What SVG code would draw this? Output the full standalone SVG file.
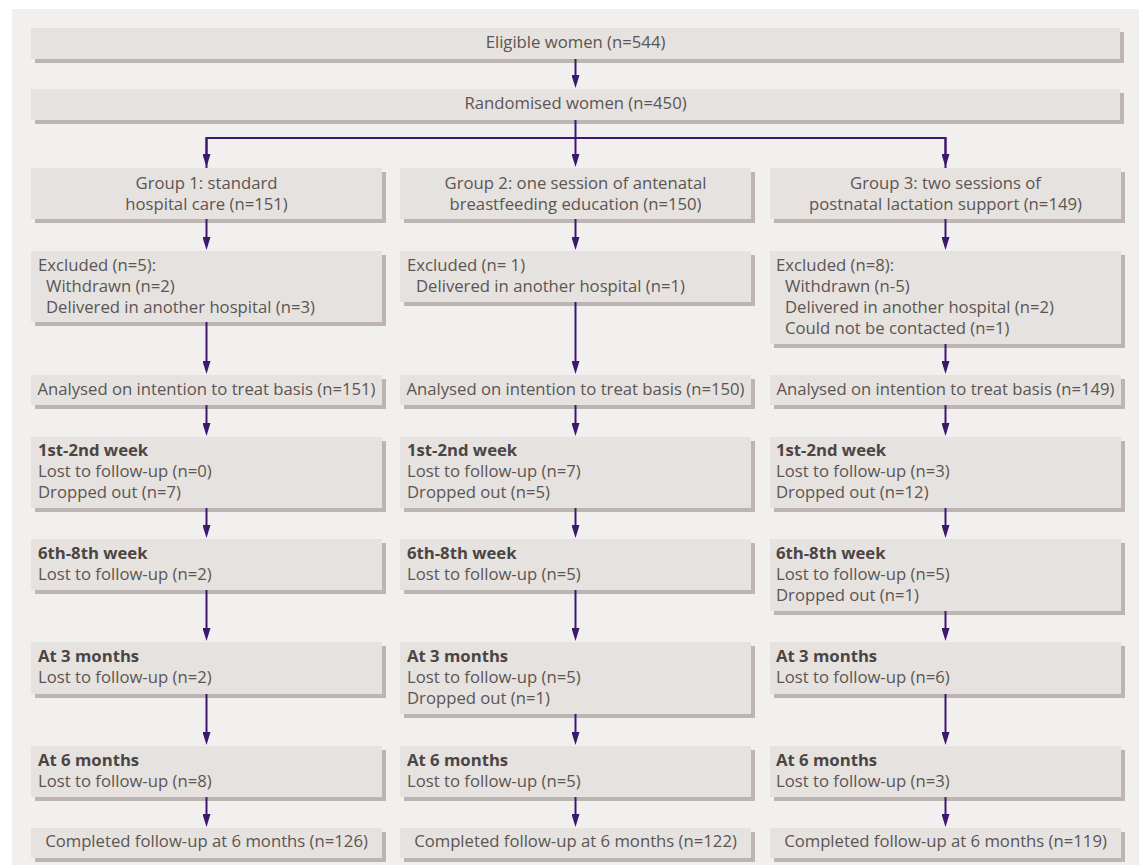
<svg xmlns="http://www.w3.org/2000/svg" width="1139" height="865" viewBox="0 0 1139 865">
<defs>
<style>
.bx{fill:#e6e2df}
.sh{fill:#bdb5b3}
.t{font-family:"Open Sans","Liberation Sans",sans-serif;font-size:16.7px;fill:#5b5553}
.c{text-anchor:middle}
.b{font-weight:bold;fill:#4b4543}
.ln{stroke:#3d176e;stroke-width:2;fill:none}
.ar{stroke:#3d176e;stroke-width:2;fill:none;marker-end:url(#ah)}
</style>
<marker id="ah" viewBox="0 -4 13 8" refX="7" refY="0" markerWidth="13" markerHeight="8" markerUnits="userSpaceOnUse" orient="auto">
<path d="M0,-4 L13,0 L0,4 z" fill="#3d176e"/>
</marker>
</defs>
<rect x="12" y="9" width="1127" height="856" fill="#f1f0ef"/>

<g id="eligible"><rect class="sh" x="35" y="32" width="1089" height="31"/><rect class="bx" x="31" y="28" width="1089" height="31"/><text class="t c" x="575.5" y="48">Eligible women (n=544)</text></g>
<g id="randomised"><rect class="sh" x="35" y="93" width="1089" height="31"/><rect class="bx" x="31" y="89" width="1089" height="31"/><text class="t c" x="575.5" y="109">Randomised women (n=450)</text></g>

<g id="g1"><rect class="sh" x="35" y="172" width="351" height="51"/><rect class="bx" x="31" y="168" width="351" height="51"/><text class="t c" x="206.5" y="189">Group 1: standard</text><text class="t c" x="206.5" y="210">hospital care (n=151)</text></g>
<g id="g2"><rect class="sh" x="404" y="172" width="351" height="51"/><rect class="bx" x="400" y="168" width="351" height="51"/><text class="t c" x="575.5" y="189">Group 2: one session of antenatal</text><text class="t c" x="575.5" y="210">breastfeeding education (n=150)</text></g>
<g id="g3"><rect class="sh" x="774" y="172" width="351" height="51"/><rect class="bx" x="770" y="168" width="351" height="51"/><text class="t c" x="945.5" y="189">Group 3: two sessions of</text><text class="t c" x="945.5" y="210">postnatal lactation support (n=149)</text></g>

<g id="ex1"><rect class="sh" x="35" y="255" width="351" height="71"/><rect class="bx" x="31" y="251" width="351" height="71"/><text class="t" x="38" y="271">Excluded (n=5):</text><text class="t" x="46" y="292">Withdrawn (n=2)</text><text class="t" x="46" y="313">Delivered in another hospital (n=3)</text></g>
<g id="ex2"><rect class="sh" x="404" y="255" width="351" height="51"/><rect class="bx" x="400" y="251" width="351" height="51"/><text class="t" x="407" y="271">Excluded (n= 1)</text><text class="t" x="416" y="292">Delivered in another hospital (n=1)</text></g>
<g id="ex3"><rect class="sh" x="774" y="255" width="351" height="93"/><rect class="bx" x="770" y="251" width="351" height="93"/><text class="t" x="776" y="271">Excluded (n=8):</text><text class="t" x="785" y="292">Withdrawn (n-5)</text><text class="t" x="785" y="313">Delivered in another hospital (n=2)</text><text class="t" x="785" y="334">Could not be contacted (n=1)</text></g>

<g id="an1"><rect class="sh" x="35" y="379" width="351" height="30"/><rect class="bx" x="31" y="375" width="351" height="30"/><text class="t c" x="206.5" y="394.5">Analysed on intention to treat basis (n=151)</text></g>
<g id="an2"><rect class="sh" x="404" y="379" width="351" height="30"/><rect class="bx" x="400" y="375" width="351" height="30"/><text class="t c" x="575.5" y="394.5">Analysed on intention to treat basis (n=150)</text></g>
<g id="an3"><rect class="sh" x="774" y="379" width="351" height="30"/><rect class="bx" x="770" y="375" width="351" height="30"/><text class="t c" x="945.5" y="394.5">Analysed on intention to treat basis (n=149)</text></g>

<g id="w1a"><rect class="sh" x="35" y="441" width="351" height="71"/><rect class="bx" x="31" y="437" width="351" height="71"/><text class="t b" x="38" y="456">1st-2nd week</text><text class="t" x="38" y="477">Lost to follow-up (n=0)</text><text class="t" x="38" y="498">Dropped out (n=7)</text></g>
<g id="w1b"><rect class="sh" x="404" y="441" width="351" height="71"/><rect class="bx" x="400" y="437" width="351" height="71"/><text class="t b" x="407" y="456">1st-2nd week</text><text class="t" x="407" y="477">Lost to follow-up (n=7)</text><text class="t" x="407" y="498">Dropped out (n=5)</text></g>
<g id="w1c"><rect class="sh" x="774" y="441" width="351" height="71"/><rect class="bx" x="770" y="437" width="351" height="71"/><text class="t b" x="776" y="456">1st-2nd week</text><text class="t" x="776" y="477">Lost to follow-up (n=3)</text><text class="t" x="776" y="498">Dropped out (n=12)</text></g>

<g id="w6a"><rect class="sh" x="35" y="543" width="351" height="51"/><rect class="bx" x="31" y="539" width="351" height="51"/><text class="t b" x="38" y="559">6th-8th week</text><text class="t" x="38" y="580">Lost to follow-up (n=2)</text></g>
<g id="w6b"><rect class="sh" x="404" y="543" width="351" height="51"/><rect class="bx" x="400" y="539" width="351" height="51"/><text class="t b" x="407" y="559">6th-8th week</text><text class="t" x="407" y="580">Lost to follow-up (n=5)</text></g>
<g id="w6c"><rect class="sh" x="774" y="543" width="351" height="72"/><rect class="bx" x="770" y="539" width="351" height="72"/><text class="t b" x="776" y="559">6th-8th week</text><text class="t" x="776" y="580">Lost to follow-up (n=5)</text><text class="t" x="776" y="601">Dropped out (n=1)</text></g>

<g id="m3a"><rect class="sh" x="35" y="646" width="351" height="52"/><rect class="bx" x="31" y="642" width="351" height="52"/><text class="t b" x="38" y="662">At 3 months</text><text class="t" x="38" y="683">Lost to follow-up (n=2)</text></g>
<g id="m3b"><rect class="sh" x="404" y="646" width="351" height="72"/><rect class="bx" x="400" y="642" width="351" height="72"/><text class="t b" x="407" y="662">At 3 months</text><text class="t" x="407" y="683">Lost to follow-up (n=5)</text><text class="t" x="407" y="704">Dropped out (n=1)</text></g>
<g id="m3c"><rect class="sh" x="774" y="646" width="351" height="52"/><rect class="bx" x="770" y="642" width="351" height="52"/><text class="t b" x="776" y="662">At 3 months</text><text class="t" x="776" y="683">Lost to follow-up (n=6)</text></g>

<g id="m6a"><rect class="sh" x="35" y="750" width="351" height="51"/><rect class="bx" x="31" y="746" width="351" height="51"/><text class="t b" x="38" y="766">At 6 months</text><text class="t" x="38" y="787">Lost to follow-up (n=8)</text></g>
<g id="m6b"><rect class="sh" x="404" y="750" width="351" height="51"/><rect class="bx" x="400" y="746" width="351" height="51"/><text class="t b" x="407" y="766">At 6 months</text><text class="t" x="407" y="787">Lost to follow-up (n=5)</text></g>
<g id="m6c"><rect class="sh" x="774" y="750" width="351" height="51"/><rect class="bx" x="770" y="746" width="351" height="51"/><text class="t b" x="776" y="766">At 6 months</text><text class="t" x="776" y="787">Lost to follow-up (n=3)</text></g>

<g id="co1"><rect class="sh" x="35" y="832" width="351" height="30"/><rect class="bx" x="31" y="828" width="351" height="30"/><text class="t c" x="206.5" y="847">Completed follow-up at 6 months (n=126)</text></g>
<g id="co2"><rect class="sh" x="404" y="832" width="351" height="30"/><rect class="bx" x="400" y="828" width="351" height="30"/><text class="t c" x="575.5" y="847">Completed follow-up at 6 months (n=122)</text></g>
<g id="co3"><rect class="sh" x="774" y="832" width="351" height="30"/><rect class="bx" x="770" y="828" width="351" height="30"/><text class="t c" x="945.5" y="847">Completed follow-up at 6 months (n=119)</text></g>

<g id="connectors">
<line class="ar" x1="575.5" y1="59" x2="575.5" y2="82"/>
<polyline class="ln" points="575.5,120 575.5,138"/>
<polyline class="ln" points="206.5,168 206.5,138 945.5,138 945.5,168" style="stroke-linejoin:miter" />
<line class="ar" x1="206.5" y1="138" x2="206.5" y2="161"/>
<line class="ar" x1="575.5" y1="138" x2="575.5" y2="161"/>
<line class="ar" x1="945.5" y1="138" x2="945.5" y2="161"/>

<line class="ar" x1="206.5" y1="219" x2="206.5" y2="244"/>
<line class="ar" x1="206.5" y1="322" x2="206.5" y2="368"/>
<line class="ar" x1="206.5" y1="405" x2="206.5" y2="430"/>
<line class="ar" x1="206.5" y1="508" x2="206.5" y2="532"/>
<line class="ar" x1="206.5" y1="590" x2="206.5" y2="635"/>
<line class="ar" x1="206.5" y1="694" x2="206.5" y2="739"/>
<line class="ar" x1="206.5" y1="797" x2="206.5" y2="821"/>

<line class="ar" x1="575.5" y1="219" x2="575.5" y2="244"/>
<line class="ar" x1="575.5" y1="302" x2="575.5" y2="368"/>
<line class="ar" x1="575.5" y1="405" x2="575.5" y2="430"/>
<line class="ar" x1="575.5" y1="508" x2="575.5" y2="532"/>
<line class="ar" x1="575.5" y1="590" x2="575.5" y2="635"/>
<line class="ar" x1="575.5" y1="714" x2="575.5" y2="739"/>
<line class="ar" x1="575.5" y1="797" x2="575.5" y2="821"/>

<line class="ar" x1="945.5" y1="219" x2="945.5" y2="244"/>
<line class="ar" x1="945.5" y1="344" x2="945.5" y2="368"/>
<line class="ar" x1="945.5" y1="405" x2="945.5" y2="430"/>
<line class="ar" x1="945.5" y1="508" x2="945.5" y2="532"/>
<line class="ar" x1="945.5" y1="611" x2="945.5" y2="635"/>
<line class="ar" x1="945.5" y1="694" x2="945.5" y2="739"/>
<line class="ar" x1="945.5" y1="797" x2="945.5" y2="821"/>
</g>
</svg>
